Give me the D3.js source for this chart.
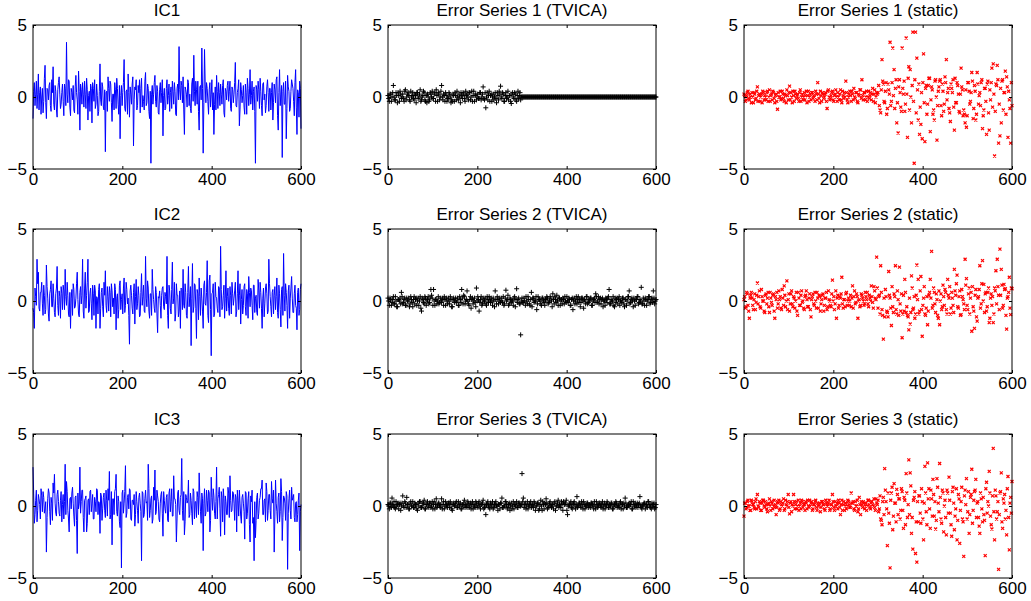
<!DOCTYPE html>
<html>
<head>
<meta charset="utf-8">
<script src="https://cdn.jsdelivr.net/npm/d3@7"></script>
<style>
  body { margin: 0; background: #fff; }
  text { font-family: "Liberation Sans", Arial, sans-serif; }
</style>
</head>
<body>
<svg id="fig" width="1031" height="601"></svg>
<script>
// main samples sit at x = 3k, the "Mid" samples at x = 3k + 1.5
var step = 3;
var xTicks = [0, 200, 400, 600];
var yTicks = [-5, 0, 5];

var ic1 = [
  -1.5, 1.0, 0.2, -0.8, 1.6, 0.3, -1.2, 0.6, -0.3, 2.2,
  -1.5, 0.5, 0.8, -0.6, 1.2, 2.1, -0.9, 0.4, -1.4, 1.0,
  0.2, -0.5, 0.9, -1.3, 0.6, 3.8, -0.4, 1.1, -1.3, 0.3,
  0.8, -1.1, 1.5, -0.2, 1.8, -2.3, 0.5, 1.0, -0.7, 0.2,
  1.3, -1.6, 0.4, 0.9, -1.8, 0.6, 1.2, -0.5, 0.1, -1.0,
  2.3, -0.6, 0.7, -0.9, -3.8, 0.4, 1.4, -0.3, 0.9, -1.7,
  0.2, 1.0, -0.8, 0.6, -1.2, -2.9, 0.8, 0.3, 2.6, -1.0,
  0.5, 1.6, -1.4, 0.2, 0.9, -3.4, 0.7, 1.2, -0.6, 0.3,
  -1.1, 1.3, 0.1, -0.9, 1.7, -0.4, 0.6, -1.5, -4.6, 0.8,
  0.2, 1.5, -0.7, 0.4, -1.2, 1.0, 0.3, -2.7, 0.6, -0.8,
  1.2, 0.1, -1.0, 0.7, 1.1, -0.5, 0.4, -1.3, 0.9, 3.5,
  -0.2, 0.8, 1.4, -2.6, 0.5, -0.7, 1.0, 0.2, -1.1, 1.3,
  2.9, -0.6, 0.5, 1.1, -2.3, 0.8, 3.4, -3.9, 3.3, -0.4,
  0.6, -1.2, 1.0, 0.2, -0.9, -2.6, 0.7, 1.5, -0.8, 0.3,
  0.9, -0.5, 1.2, -1.4, 0.4, 0.8, -0.3, 1.1, -1.0, 0.5,
  0.2, 2.4, -0.7, 0.6, -2.0, 1.0, -0.4, 0.8, -1.2, 0.3,
  1.3, -0.6, 1.9, 0.1, -0.9, 0.7, -4.6, 0.5, 1.1, -0.8,
  0.4, -1.3, 1.0, 0.2, -0.6, 1.2, -1.0, 0.6, 0.3, -1.6,
  0.9, -0.4, 1.4, -2.3, 1.9, 0.2, -4.2, 1.0, -0.5, -2.9,
  1.5, 0.4, -0.8, 1.2, 0.6, -1.3, 1.9, -2.6, 0.3, 1.1,
  -2.2
];
var ic1Mid = [
  0.4, -0.6, 1.1, 0.2, -0.9, 0.7, 0.0, -1.1, 1.3, -0.4,
  0.6, -0.2, 1.0, -1.0, 0.3, -0.5, 0.8, -0.9, 0.5, 1.4,
  -0.8, 0.3, -0.3, 0.9, -0.6, 0.2, 1.2, -0.7, 0.6, -0.2,
  -0.9, 0.7, 0.3, -1.2, 0.4, 0.9, -0.5, 0.2, 1.1, -0.8,
  0.5, 0.1, -1.0, 0.6, 1.0, -0.3, -0.8, 0.9, -1.3, 0.4,
  -0.2, 1.0, -0.7, 0.5, 0.3, -1.0, 0.6, 1.1, -0.4, 0.2,
  -0.9, 0.5, 1.3, -0.5, 0.8, 0.1, -0.6, 1.0, -0.8, 0.4,
  -1.2, 0.3, 0.7, -0.5, 1.4, -0.2, 0.5, -0.9, 0.8, 1.2,
  0.6, -0.7, -0.3, 1.1, -0.6, 0.9, -1.0, 0.4, 0.2, -0.5,
  1.0, -0.3, 0.8, -1.1, 0.5, -0.4, 1.2, 0.1, -0.9, 0.6,
  -0.5, 0.9, 0.3, -0.8, 0.4, 1.0, -1.2, 0.6, -0.2, 0.5,
  1.1, -0.4, -0.9, 0.7, 0.2, 1.2, -0.6, -0.8, 0.9, -0.3,
  0.4, 1.1, -0.5, -1.0, 0.7, -0.2, 0.6, -0.4, 0.9, 1.0,
  -0.3, 0.5, -0.7, 1.2, 0.3, -0.5, -0.9, 0.4, 1.0, -0.6,
  0.2, 0.8, -1.1, 0.6, -0.2, 1.1, 0.4, -0.8, 0.7, -0.4,
  1.0, -0.6, 0.3, 1.2, -0.9, 0.5, 0.1, -0.7, 0.9, -1.2,
  0.6, 0.2, -0.5, 1.1, 0.4, -1.0, 0.8, -0.3, 0.5, 1.3,
  -0.6, 0.9, -0.2, -1.1, 0.7, 0.3, 0.6, -0.9, 1.0, -0.4,
  0.5, 1.2, -1.3, 0.3, -0.6, 0.8, 0.4, -0.5, 1.1, -0.8,
  0.7, -1.0, 0.4, 0.9, -0.3, 1.0, -0.7, 0.5, -1.4, 0.6
];

var ic2 = [
  -0.5, -1.9, 0.3, 2.9, 2.0, -0.7, 0.6, -0.2, 1.1, -0.9,
  2.5, 0.2, -1.4, 0.8, -0.4, 1.2, -0.8, 0.5, 2.4, -1.0,
  0.3, 1.0, -0.6, 0.7, 2.2, -0.3, 0.4, -1.1, -1.9, 0.8,
  1.2, -0.5, 0.2, 2.0, -0.9, 0.6, -0.2, 2.9, -1.2, 2.0,
  0.4, 2.9, -0.7, 0.9, -1.3, 0.5, 1.1, -1.9, 0.2, 0.8,
  -1.9, 0.6, -0.4, 1.3, 2.1, -0.8, 0.3, 1.0, -1.1, 0.7,
  0.2, 1.2, -2.0, 0.5, -0.6, 1.4, 0.1, -0.9, 1.6, -0.3,
  0.8, 0.2, -3.0, 1.1, -0.5, 0.6, -1.6, 1.5, -0.2, 0.4,
  -1.0, 1.9, 0.3, -0.7, 3.1, -0.4, 0.9, -1.2, 0.5, 2.2,
  0.1, -0.8, 0.6, -2.2, 0.2, -0.3, 0.4, 1.0, -0.6, 0.3,
  3.1, -1.9, 0.7, -0.9, 2.7, 0.2, -1.4, 1.2, 0.4, -0.7,
  -1.9, 0.8, 2.2, -0.5, 0.6, -1.2, 2.4, 0.3, -3.1, 2.6,
  -0.4, 1.1, -2.6, 0.5, 1.6, -1.0, 0.2, -1.9, 1.4, -0.3,
  2.8, -1.5, 1.8, -3.8, 0.6, -1.1, 1.3, 0.2, -0.8, 0.9,
  3.8, -0.6, 0.4, -1.2, 2.1, 0.3, -0.5, 1.0, -0.9, 0.5,
  0.2, 1.3, -0.7, 2.1, 0.4, -1.6, 0.8, -0.3, 1.2, -1.0,
  0.5, 1.7, -0.4, 0.7, -1.3, 1.1, 0.2, -0.8, 1.5, -0.5,
  0.6, -1.9, 0.9, -0.2, 1.2, -0.9, 2.9, 0.3, -1.1, 0.8,
  0.4, -0.6, 1.6, -1.2, 0.5, -1.8, 1.0, 3.3, -0.7, 0.6,
  -1.9, 1.1, 0.2, 1.7, -0.8, 0.5, -0.3, -2.0, 0.9, -0.6,
  1.2
];
var ic2Mid = [
  -0.8, 0.9, -0.3, 1.2, -0.5, 0.6, 1.3, -1.0, 0.4, -0.6,
  1.0, -0.9, 0.5, 1.4, -0.4, 0.2, -1.1, 0.9, -0.3, 0.7,
  -1.2, 0.5, 1.1, -0.6, 0.3, 1.3, -0.9, 0.6, 0.2, -1.0,
  0.8, -0.4, 1.2, 0.1, -1.1, 1.0, 0.4, -0.7, 0.9, -0.5,
  1.3, -0.8, 0.5, -0.2, 1.1, -1.0, 0.7, 0.3, -0.9, 1.2,
  -0.5, 0.9, -1.1, 0.4, -0.3, 1.0, -0.7, 0.6, 1.2, -0.4,
  -0.9, 0.8, 0.2, -1.2, 1.1, -0.6, 0.5, 0.9, -0.8, 1.3,
  -0.2, -1.0, 0.7, 0.4, -0.9, 1.2, 0.3, -0.6, 1.0, -1.1,
  0.6, -0.3, 1.1, -0.8, 0.2, 1.4, -0.7, 0.5, -1.0, 0.8,
  -0.5, 1.0, -0.9, 0.3, 0.7, -1.2, 0.9, -0.4, 0.6, -0.2,
  -1.0, 1.1, -0.5, 0.8, -0.2, 1.3, -0.9, 0.4, -1.1, 0.7,
  0.9, -0.6, -0.3, 1.2, -1.0, 0.6, -0.4, 1.0, 0.2, -0.8,
  1.2, -0.5, 0.8, -1.3, 0.3, 0.9, -0.7, 1.1, -0.2, 0.6,
  -1.0, 1.4, -0.6, 0.5, 1.2, -0.9, 0.3, -0.5, 1.0, -1.1,
  0.8, -0.4, 1.1, 0.2, -0.7, 0.9, -1.0, 0.4, 1.3, -0.3,
  0.7, -1.1, 0.5, -0.6, 1.2, 0.1, -0.9, 1.0, -0.4, 0.8,
  -1.2, 0.6, 0.9, -0.3, 1.1, -0.8, 0.4, -1.0, 0.7, 1.3,
  -0.5, 0.2, -1.1, 0.9, 0.5, -0.7, 1.2, -0.4, 0.6, -0.9,
  1.0, 0.3, -0.8, 1.1, -0.6, 0.8, -1.0, 0.4, 1.2, -0.3,
  0.7, -1.2, 0.9, 0.2, -0.8, 1.1, -0.5, 0.6, -1.0, 0.8
];

var ic3 = [
  2.7, -1.2, 0.4, -1.1, 0.8, 0.1, 1.2, -0.4, 0.6, -0.2,
  -3.2, 0.5, 0.9, -1.3, 0.2, 1.6, 2.2, -0.5, 0.8, 0.3,
  -0.7, 1.0, 0.1, -0.9, 2.9, 1.7, -0.3, -1.8, 0.6, 0.9,
  0.2, -1.4, 0.7, -3.3, -0.2, 2.7, 0.3, 1.1, -1.8, 0.5,
  -1.8, 0.4, -0.6, 1.1, 0.2, -0.9, 0.6, -0.4, 1.1, 0.3,
  -1.9, 0.7, -0.2, 0.9, -0.8, 0.4, 1.2, 2.4, -0.6, -2.7,
  0.5, 1.0, 2.2, -0.7, 0.3, -1.5, -4.3, 1.1, 0.2, 2.8,
  -0.5, 0.8, 1.2, -0.9, 0.4, 0.1, -1.4, 1.0, -0.3, 0.6,
  0.2, -3.8, 0.9, -0.6, 1.1, 0.3, 2.9, -0.8, 0.5, -1.2,
  1.3, 2.5, -0.4, 0.7, -0.9, 0.2, 1.0, -2.1, 0.4, -0.5,
  0.8, -1.1, 1.2, 0.3, -0.7, 2.1, 0.5, -2.5, 0.9, -0.3,
  0.6, 3.3, -1.0, -2.0, 0.8, 0.2, 1.8, -0.6, 0.4, -1.3,
  1.0, 0.3, -0.8, 0.6, 2.3, -0.4, 0.9, -3.1, 1.2, -0.5,
  0.4, 1.1, -1.8, 2.0, -0.3, 0.7, -0.9, 2.7, 0.5, 1.3,
  -2.1, 0.6, 1.2, -2.0, 0.3, -0.6, 0.9, 2.1, -0.4, 1.0,
  0.2, 0.8, -1.8, 0.4, 1.1, -0.7, 0.6, 0.2, -2.3, 0.9,
  -0.5, 1.0, -2.5, 0.3, -1.2, -3.8, -2.2, 0.6, -0.9, 0.4,
  1.2, 1.8, -0.6, 0.5, 1.6, -1.0, 0.8, -0.3, 1.7, 0.2,
  -3.2, 1.8, -0.4, 0.6, -1.1, 1.9, -2.4, 0.7, 0.2, 1.0,
  -4.4, 0.5, -0.3, 1.3, 0.6, -0.8, 0.2, -1.1, 0.4, -3.1,
  0.1
];
var ic3Mid = [
  0.9, -0.6, 1.1, -0.3, 0.5, -0.9, 0.7, 1.0, -0.5, 0.3,
  -0.8, 1.2, -0.4, 0.6, -1.0, 0.9, 0.2, -0.7, 1.1, -0.5,
  0.4, -1.1, 0.8, 0.3, -0.6, 1.0, -0.9, 0.5, -0.2, 1.3,
  -0.7, 0.6, -1.0, 0.9, 0.2, -0.5, 1.1, -0.8, 0.4, 0.7,
  -1.2, 0.5, 1.0, -0.4, 0.8, -0.9, 0.3, 1.2, -0.6, 0.2,
  0.9, -1.0, 0.6, -0.3, 1.1, -0.7, 0.4, -0.9, 1.0, 0.5,
  -0.6, 1.2, -0.4, 0.7, -1.1, 0.3, 0.9, -0.5, 1.0, -0.8,
  0.6, -0.2, 1.1, -1.0, 0.4, 0.8, -0.6, 0.3, -1.2, 0.9,
  -0.4, 1.0, -0.8, 0.5, 0.2, -1.0, 1.2, -0.3, 0.7, -0.9,
  0.4, -0.6, 1.1, 0.3, -1.1, 0.8, -0.5, 1.0, -0.2, 0.6,
  -1.0, 0.9, -0.4, 1.2, -0.7, 0.5, 0.1, -0.9, 1.1, -0.6,
  0.8, -0.3, 1.0, -1.1, 0.6, 0.4, -0.8, 0.9, -0.5, 1.2,
  -0.9, 0.3, 1.0, -0.6, 0.7, -1.2, 0.5, 0.2, -0.7, 1.1,
  -0.4, 0.9, -1.0, 0.6, 1.2, -0.5, 0.3, -0.9, 0.8, -0.2,
  1.0, -1.1, 0.5, 0.7, -0.6, 1.3, -0.8, 0.4, -0.3, 0.9,
  -1.0, 0.6, 1.1, -0.7, 0.2, -1.2, 0.8, -0.4, 1.0, -0.9,
  0.5, -1.3, 0.7, 1.1, -0.8, 0.3, -1.0, 0.9, -0.5, 0.6,
  1.2, -0.6, 0.4, -1.1, 1.0, -0.3, 0.8, -0.9, 0.5, 1.1,
  -0.7, 0.2, -1.2, 0.9, -0.4, 1.0, -0.8, 0.6, -1.0, 0.7,
  -0.5, 1.1, -0.9, 0.4, 0.8, -1.1, 0.3, -0.6, 0.9, -0.4
];

var tvica1 = [
  0.1, -0.3, 0.2, 0.0, 0.8, -0.2, 0.3, -0.4, 0.1, 0.4,
  -0.1, 0.2, -0.3, 0.5, 0.0, 0.3, -0.2, 0.4, 0.1, -0.1,
  0.2, -0.4, 0.3, 0.0, 0.5, -0.2, 0.1, 0.3, -0.3, -0.4,
  0.0, -0.2, 0.2, 0.4, -0.1, 0.3, 0.5, -0.3, 0.2, 0.0,
  0.8, -0.2, 0.1, 0.3, -0.3, -0.1, 0.2, -0.4, -0.3, 0.1,
  0.3, -0.2, 0.0, 0.2, -0.4, 0.1, 0.3, -0.1, 0.4, 0.2,
  -0.2, 0.3, 0.0, -0.3, 0.4, 0.1, -0.2, 0.2, -0.1, 0.3,
  0.0, 0.7, -0.2, -0.75, 0.3, 0.1, -0.3, 0.2, 0.0, -0.2,
  0.3, -0.4, 0.1, 0.4, 0.75, -0.1, 0.2, -0.3, 0.3, 0.0,
  -0.2, 0.1, -0.45, 0.3, -0.1, 0.2, -0.3, 0.4, 0.1, -0.2,
  0, 0, 0, 0, 0, 0, 0, 0, 0, 0,
  0, 0, 0, 0, 0, 0, 0, 0, 0, 0,
  0, 0, 0, 0, 0, 0, 0, 0, 0, 0,
  0, 0, 0, 0, 0, 0, 0, 0, 0, 0,
  0, 0, 0, 0, 0, 0, 0, 0, 0, 0,
  0, 0, 0, 0, 0, 0, 0, 0, 0, 0,
  0, 0, 0, 0, 0, 0, 0, 0, 0, 0,
  0, 0, 0, 0, 0, 0, 0, 0, 0, 0,
  0, 0, 0, 0, 0, 0, 0, 0, 0, 0,
  0, 0, 0, 0, 0, 0, 0, 0, 0, 0,
  0
];
var tvica1Mid = [
  -0.1, 0.2, -0.3, 0.3, 0.0, -0.2, 0.1, 0.3, -0.3, 0.2,
  0.0, -0.1, 0.4, -0.2, 0.2, 0.1, -0.3, 0.0, 0.3, -0.2,
  0.1, 0.3, -0.1, 0.2, -0.3, 0.0, 0.4, -0.2, 0.1, 0.2,
  -0.3, 0.3, 0.0, -0.1, 0.2, -0.3, 0.1, 0.3, -0.2, 0.4,
  0.0, 0.2, -0.3, 0.1, -0.1, 0.3, 0.0, -0.2, 0.2, -0.3,
  0.1, 0.4, -0.2, 0.0, 0.3, -0.1, 0.2, -0.3, 0.1, 0.0,
  0.3, -0.2, 0.4, 0.1, -0.3, 0.2, 0.0, -0.1, 0.3, -0.2,
  0.2, -0.1, 0.3, 0.0, -0.2, 0.4, 0.1, -0.3, 0.2, 0.0,
  -0.1, 0.3, -0.2, 0.2, 0.0, 0.3, -0.3, 0.1, -0.1, 0.4,
  0.1, -0.3, 0.2, 0.0, 0.3, -0.2, 0.1, -0.1, 0.3, 0.0,
  0, 0, 0, 0, 0, 0, 0, 0, 0, 0,
  0, 0, 0, 0, 0, 0, 0, 0, 0, 0,
  0, 0, 0, 0, 0, 0, 0, 0, 0, 0,
  0, 0, 0, 0, 0, 0, 0, 0, 0, 0,
  0, 0, 0, 0, 0, 0, 0, 0, 0, 0,
  0, 0, 0, 0, 0, 0, 0, 0, 0, 0,
  0, 0, 0, 0, 0, 0, 0, 0, 0, 0,
  0, 0, 0, 0, 0, 0, 0, 0, 0, 0,
  0, 0, 0, 0, 0, 0, 0, 0, 0, 0,
  0, 0, 0, 0, 0, 0, 0, 0, 0, 0
];

var tvica2 = [
  0.2, -0.3, 0.1, -0.1, 0.3, -0.2, 0.0, -0.4, 0.1, 0.2,
  0.6, -0.2, 0.1, -0.3, 0.2, 0.0, -0.4, 0.3, -0.1, 0.1,
  -0.2, 0.2, 0.0, -0.3, 0.3, -0.7, 0.1, -0.2, 0.2, 0.0,
  0.3, -0.1, 0.8, 0.2, 0.8, -0.3, 0.1, 0.0, -0.2, 0.2,
  -0.1, 0.1, 0.3, -0.3, 0.0, 0.2, -0.2, 0.1, -0.4, 0.2,
  0.0, -0.1, 0.2, -0.3, 0.1, 0.8, -0.2, 0.3, 0.0, 0.7,
  -0.2, 0.1, -0.5, 0.2, 0.0, -0.1, 0.9, 0.3, -0.7, 0.1,
  -0.3, 0.2, 0.0, -0.2, 0.3, -0.1, 0.1, 0.2, -0.3, 0.0,
  0.7, -0.2, 0.1, 0.2, -0.1, 0.0, 0.3, -0.2, 0.75, 0.1,
  -0.3, 0.2, -0.1, 0.0, 0.2, -0.4, 0.85, 0.1, -0.2, -2.35,
  0.2, -0.1, 0.0, 0.3, -0.2, 0.1, -0.3, 0.6, 0.2, -0.1,
  0.0, -0.6, 0.3, 0.1, -0.2, 0.2, 0.0, -0.3, 0.1, 0.2,
  -0.1, 0.3, 0.0, 0.5, -0.2, 0.1, 0.4, -0.3, 0.2, 0.0,
  -0.2, 0.1, 0.3, -0.1, 0.0, 0.2, -0.3, 0.1, -0.6, 0.2,
  0.0, -0.2, 0.3, 0.1, -0.1, 0.2, -0.5, 0.0, 0.3, -0.2,
  0.1, 0.2, -0.3, 0.0, 0.2, 0.5, -0.1, 0.3, 0.1, -0.2,
  0.2, 0.0, -0.3, 0.1, 0.2, 0.8, -0.2, 0.0, 0.3, -0.4,
  -0.1, 0.2, 0.1, -0.3, 0.0, 0.2, -0.2, 0.1, -0.3, 0.3,
  0.7, -0.1, 0.2, -0.4, 0.0, 0.1, 0.3, -0.2, 0.1, 0.95,
  -0.2, 0.0, 0.2, -0.3, 0.1, 0.3, -0.1, 0.2, 0.7, -0.2,
  0.1
];
var tvica2Mid = [
  0.0, 0.2, -0.3, 0.1, -0.2, 0.3, -0.4, 0.1, 0.0, -0.2,
  0.3, -0.1, 0.2, -0.3, 0.0, 0.2, -0.2, 0.1, -0.4, 0.3,
  0.1, -0.3, 0.2, 0.0, -0.5, 0.2, -0.1, 0.3, -0.3, 0.1,
  -0.2, 0.2, 0.4, -0.3, 0.0, 0.1, -0.2, 0.3, -0.1, 0.0,
  0.2, -0.3, 0.1, 0.2, -0.2, 0.0, 0.3, -0.4, 0.1, -0.1,
  0.2, 0.0, -0.3, 0.3, -0.1, 0.2, 0.4, -0.2, 0.1, 0.0,
  -0.3, 0.3, 0.1, -0.2, 0.2, -0.4, 0.0, 0.1, -0.1, 0.3,
  -0.2, 0.0, 0.2, -0.3, 0.1, 0.3, -0.1, 0.0, 0.2, -0.4,
  0.1, 0.3, -0.2, 0.0, 0.2, -0.1, -0.3, 0.2, 0.0, 0.4,
  -0.2, 0.1, 0.0, -0.3, 0.3, 0.1, -0.1, 0.2, -0.2, 0.0,
  -0.1, 0.2, -0.3, 0.0, 0.3, -0.2, 0.1, -0.4, 0.2, 0.0,
  0.3, -0.2, 0.1, 0.0, -0.3, 0.2, -0.1, 0.1, 0.3, -0.2,
  0.0, 0.2, -0.4, 0.1, 0.3, -0.1, 0.0, 0.2, -0.3, 0.1,
  0.2, -0.2, 0.0, 0.3, -0.1, 0.1, -0.3, 0.2, 0.0, -0.2,
  0.3, 0.1, -0.1, -0.4, 0.2, 0.0, 0.1, -0.2, 0.3, -0.1,
  0.0, 0.2, -0.3, 0.1, -0.1, 0.3, 0.0, -0.2, 0.2, 0.1,
  -0.4, 0.0, 0.2, -0.1, 0.3, -0.2, 0.1, 0.0, -0.3, 0.2,
  0.1, -0.2, 0.3, 0.0, -0.1, 0.2, -0.4, 0.1, 0.0, 0.3,
  -0.2, 0.1, 0.0, 0.2, -0.3, 0.1, 0.3, -0.1, 0.0, -0.2,
  0.2, -0.3, 0.1, 0.0, 0.3, -0.2, 0.1, -0.1, 0.2, 0.0
];

var tvica3 = [
  0.1, -0.2, 0.2, 0.55, 0.0, -0.1, 0.3, 0.1, -0.2, 0.2,
  0.0, 0.7, -0.1, 0.2, 0.6, 0.1, -0.2, 0.3, 0.0, -0.1,
  0.2, 0.1, -0.3, 0.0, 0.3, -0.1, 0.2, 0.4, -0.2, 0.1,
  0.0, 0.2, -0.1, 0.3, 0.1, -0.2, 0.5, 0.0, 0.2, -0.1,
  0.5, 0.1, -0.2, 0.3, 0.0, 0.2, -0.1, 0.1, -0.3, 0.2,
  0.0, 0.3, -0.1, 0.1, 0.2, -0.2, 0.0, 0.4, 0.1, -0.1,
  0.2, 0.0, -0.2, 0.3, 0.1, -0.1, 0.2, 0.0, 0.3, -0.2,
  0.1, 0.4, -0.1, -0.6, 0.2, 0.0, -0.2, 0.1, 0.3, -0.1,
  0.2, 0.0, -0.3, 0.1, 0.2, 0.55, -0.1, 0.0, 0.3, -0.2,
  0.1, -0.3, 0.2, 0.0, -0.2, 0.1, 0.3, -0.1, 0.2, 0.0,
  2.25, 0.55, 0.1, -0.2, 0.3, 0.0, 0.2, -0.1, 0.1, 0.3,
  -0.3, 0.0, 0.2, -0.2, 0.4, -0.3, 0.1, 0.2, 0.5, -0.2,
  0.0, 0.3, -0.1, 0.1, 0.2, -0.3, 0.0, 0.4, 0.1, -0.1,
  0.2, 0.3, 0.1, 0.4, -0.6, 0.0, 0.2, -0.1, 0.1, 0.3,
  -0.2, 0.65, 0.0, 0.2, -0.1, 0.1, 0.3, -0.2, 0.0, 0.2,
  0.1, -0.1, 0.2, 0.0, 0.3, -0.2, 0.1, 0.0, 0.2, -0.1,
  0.3, 0.0, -0.2, 0.1, 0.2, -0.1, 0.0, 0.2, -0.2, 0.1,
  0.3, -0.1, 0.0, 0.2, -0.2, 0.1, 0.2, 0.55, -0.1, 0.0,
  0.2, 0.1, -0.2, 0.3, 0.0, -0.1, 0.2, 0.1, 0.65, -0.1,
  0.0, 0.2, -0.2, 0.1, 0.3, 0.0, -0.1, 0.2, 0.1, -0.2,
  0.1
];
var tvica3Mid = [
  0.0, 0.2, -0.1, 0.1, 0.3, -0.2, 0.0, 0.2, 0.1, -0.3,
  0.2, 0.0, 0.3, -0.1, 0.1, -0.2, 0.2, 0.0, 0.3, -0.1,
  0.1, -0.2, 0.2, 0.3, -0.1, 0.0, 0.2, -0.2, 0.1, 0.3,
  -0.1, 0.2, 0.0, -0.2, 0.3, 0.1, -0.1, 0.2, 0.0, 0.1,
  -0.2, 0.3, 0.0, 0.1, -0.1, 0.2, 0.3, -0.2, 0.1, 0.0,
  0.2, -0.1, 0.3, 0.0, -0.2, 0.1, 0.2, -0.1, 0.0, 0.3,
  -0.1, 0.2, 0.1, -0.2, 0.0, 0.3, -0.1, 0.2, 0.0, 0.1,
  0.2, -0.2, 0.0, 0.1, 0.3, -0.1, 0.2, 0.0, -0.2, 0.1,
  0.3, 0.0, 0.1, -0.2, 0.2, -0.1, 0.0, 0.3, 0.1, -0.1,
  0.2, 0.0, -0.2, 0.3, 0.1, 0.0, -0.1, 0.2, 0.0, 0.1,
  0.3, -0.1, 0.2, 0.0, -0.2, 0.1, 0.3, 0.0, -0.1, 0.2,
  0.0, 0.2, -0.3, 0.1, 0.0, 0.3, -0.2, 0.1, 0.2, -0.1,
  0.2, 0.0, 0.1, -0.2, 0.3, 0.0, 0.2, -0.1, 0.0, 0.3,
  -0.3, 0.1, 0.2, -0.3, 0.0, 0.1, 0.3, -0.2, 0.2, 0.0,
  0.1, -0.1, 0.2, 0.0, 0.3, -0.2, 0.1, 0.0, 0.2, -0.1,
  0.0, 0.2, 0.1, -0.2, 0.0, 0.3, -0.1, 0.2, 0.0, 0.1,
  -0.2, 0.2, 0.0, 0.3, -0.1, 0.1, 0.2, -0.2, 0.0, 0.1,
  0.2, 0.0, -0.1, 0.3, 0.1, -0.2, 0.0, 0.2, -0.1, 0.1,
  0.0, 0.3, -0.2, 0.1, 0.2, 0.0, -0.1, 0.2, 0.0, -0.2,
  0.1, 0.2, 0.0, -0.1, 0.3, 0.1, -0.2, 0.0, 0.2, -0.1
];

var static1 = [
  0.2, -0.3, 0.1, 0.4, -0.2, 0.0, 0.3, -0.4, 0.2, -0.1,
  0.7, 0.1, -0.3, 0.2, 0.4, -0.2, 0.0, 0.3, -0.3, 0.5,
  0.1, -0.2, 0.3, -0.4, 0.2, -0.85, 0.0, 0.4, -0.1, 0.2,
  -0.3, 0.1, 0.5, -0.2, 0.75, 0.3, -0.4, 0.1, 0.4, -0.1,
  0.2, -0.3, 0.5, 0.0, -0.2, 0.3, 0.1, -0.4, 0.4, 0.0,
  -0.2, 0.3, 0.1, -0.3, 0.2, 1.0, -0.1, 0.4, -0.3, 0.2,
  0.0, 0.3, -0.8, 0.5, -0.2, 0.1, 0.4, -0.3, 0.2, 0.0,
  0.3, -0.2, 0.5, -0.4, 0.1, 0.3, 1.1, -0.2, 0.0, 0.4,
  -0.3, 0.2, 0.6, -0.1, 0.3, -0.4, 0.1, 0.5, 1.2, -0.2,
  0.3, 0.0, -0.3, 0.4, 0.1, -0.2, 0.6, 0.2, -0.4, 0.3,
  0.3, -0.6, -1.1, 2.6, 0.9, -0.4, 1.0, -0.8, 0.5, 3.8,
  -0.3, 3.4, 1.9, 0.6, -1.8, -2.5, 1.2, -0.7, 3.4, 0.2,
  -1.0, 4.1, -2.8, 2.1, 1.9, -1.8, 4.5, -4.6, 4.5, 2.7,
  -1.6, -2.6, -1.9, -2.9, 3.0, -3.1, 0.8, -0.5, 1.3, -2.4,
  0.7, -1.2, -1.6, 1.2, -3.0, 0.4, 1.1, -0.6, 0.9, -1.0,
  1.4, 2.6, 0.3, -0.8, -1.7, 0.6, 1.2, -2.3, -0.4, 1.0,
  0.2, -1.1, 2.0, 0.5, -0.9, -1.8, -2.1, 1.0, 0.4, -0.3,
  1.7, -1.5, 0.8, -1.6, 1.7, -0.5, 0.3, 1.0, -2.2, -0.9,
  0.6, -2.6, 1.1, -2.3, -0.2, 2.0, 2.3, -4.1, 0.9, 2.2,
  -3.2, -2.7, -1.8, 1.2, 0.3, 1.8, 1.4, -2.8, -0.2, -3.2,
  -0.6
];
var static1Mid = [
  0.1, -0.2, 0.3, -0.1, 0.2, -0.4, 0.0, 0.3, -0.2, 0.4,
  -0.3, 0.2, 0.0, -0.4, 0.3, 0.1, -0.2, 0.4, 0.0, -0.3,
  0.2, 0.4, -0.1, 0.1, -0.3, 0.3, 0.0, -0.2, 0.4, -0.1,
  0.2, -0.4, 0.1, 0.3, -0.2, 0.0, 0.4, -0.3, 0.2, 0.1,
  -0.1, 0.3, -0.3, 0.2, 0.0, -0.2, 0.4, 0.1, -0.3, 0.2,
  0.3, -0.1, 0.0, 0.4, -0.2, 0.2, -0.4, 0.1, 0.3, -0.1,
  0.2, -0.3, 0.4, 0.0, -0.1, 0.3, -0.2, 0.1, 0.5, -0.3,
  0.0, 0.2, -0.2, 0.4, -0.1, 0.0, 0.3, -0.4, 0.2, 0.1,
  0.4, -0.2, 0.0, 0.3, -0.3, 0.2, 0.5, -0.1, 0.1, 0.3,
  -0.2, 0.4, 0.0, -0.1, 0.3, 0.2, -0.3, 0.5, 0.0, 0.2,
  0.8, -0.9, 0.5, 1.1, -0.3, 0.4, -1.2, 0.9, 0.2, -0.6,
  1.0, 0.1, -0.8, 1.2, -0.4, 0.7, 0.3, -1.0, 0.6, 1.1,
  -0.5, 0.2, 1.3, -0.9, 0.0, 0.8, -0.3, 1.2, -1.1, 0.5,
  0.9, -0.7, 0.3, 1.0, -0.4, 0.6, -1.2, 0.8, 1.3, -0.2,
  0.5, -0.9, 1.1, 0.0, -0.6, 0.7, 1.2, -1.3, 0.4, -0.5,
  1.0, -0.2, 0.6, -1.1, 0.9, 0.3, -0.7, 1.3, -0.4, 0.8,
  -1.0, 0.2, 0.7, -1.3, -1.2, 0.5, -1.3, 1.0, -0.5, 0.3,
  1.1, -0.8, 0.4, -1.2, 0.9, 0.1, -0.6, 1.2, -1.3, 0.6,
  -0.3, 0.9, -1.1, 0.5, 1.0, -0.7, 0.2, -1.0, 0.8, 1.2,
  -0.5, 0.6, 1.1, -0.9, 0.3, -1.2, 0.7, 0.4, -0.8, 1.0
];

var static2 = [
  0.1, -0.5, 0.6, -0.3, -1.2, 0.4, 0.2, -0.6, 0.5, -0.1,
  1.25, 0.3, -0.4, 0.8, 0.0, -0.7, 0.4, -0.2, 0.6, -0.8,
  0.2, -0.3, 0.5, -1.2, 0.1, -0.5, 0.7, 0.3, -0.6, 0.2,
  1.05, -0.4, 1.4, 0.1, -0.7, 0.5, -0.2, 0.3, -0.5, 0.6,
  -1.0, 0.2, -0.3, 0.7, 0.0, -0.6, 0.4, 0.1, -0.4, 0.5,
  -1.1, 0.3, -0.2, 0.6, -0.5, 0.2, 0.4, -0.7, 0.1, 0.5,
  -0.3, 0.2, -0.6, 0.7, 0.0, -0.4, 1.45, 0.3, -0.2, -1.2,
  0.4, -0.3, 0.2, 1.65, -0.5, 0.1, 0.5, -0.3, 0.2, 0.0,
  -0.4, 1.05, 0.3, -0.2, 0.5, -1.2, 0.1, -0.3, 0.4, 0.0,
  -0.2, 0.3, 0.6, -0.4, 0.2, 1.05, -0.1, 1.0, 0.2, 3.05,
  -0.5, 0.4, 2.45, -0.6, -2.65, -1.1, 0.3, -0.8, 2.05, 0.2,
  -1.7, -0.4, 0.5, 2.45, -0.9, 0.1, 2.35, -0.7, -2.55, 0.4,
  1.5, -0.8, -1.0, -2.0, -1.6, 1.75, -0.6, 0.3, -0.9, 2.5,
  1.5, -0.7, 1.7, -2.45, 0.2, -0.9, -0.5, -1.65, 0.4, 1.5,
  3.45, -0.3, 0.6, -0.8, 0.1, -1.2, -1.65, 0.5, -0.4, 0.3,
  0.8, -0.6, 1.5, 0.2, -0.9, 0.6, -0.3, 2.2, 0.4, 1.8,
  -0.5, 0.7, -0.95, 0.3, -0.2, 2.9, 1.55, -0.6, 0.9, 0.2,
  -2.1, -0.4, -1.9, 0.8, -1.4, 0.3, 2.45, -0.2, 2.8, 1.15,
  0.5, -0.7, 0.6, -1.5, 0.2, -0.3, -1.5, 0.9, 2.1, 2.9,
  0.4, 3.6, 2.2, -0.5, 1.15, 0.85, -1.95, 0.3, 1.65, -0.95,
  0.85
];
var static2Mid = [
  0.3, -0.4, 0.5, -0.7, 0.2, 0.6, -0.3, 0.1, -0.6, 0.4,
  -0.2, 0.7, -0.5, 0.3, 0.0, -0.8, 0.5, 0.2, -0.4, 0.6,
  -0.1, 0.4, -0.7, 0.3, 0.6, -0.2, 0.1, -0.5, 0.8, -0.3,
  0.4, 0.0, -0.6, 0.5, -0.2, 0.7, -0.4, 0.2, 0.0, -0.7,
  0.6, -0.3, 0.4, -0.1, -0.5, 0.3, 0.7, -0.4, 0.2, -0.6,
  0.1, 0.5, -0.3, 0.0, 0.6, -0.5, 0.3, -0.2, 0.4, -0.7,
  0.2, 0.6, -0.4, 0.1, -0.3, 0.5, 0.0, -0.6, 0.7, 0.2,
  -0.5, 0.3, 0.5, -0.2, 0.1, -0.4, 0.6, 0.0, -0.3, 0.4,
  0.2, -0.5, 0.7, -0.1, 0.3, 0.0, -0.4, 0.5, 0.2, -0.3,
  0.6, 0.1, -0.2, 0.4, 0.0, 0.3, -0.5, 0.7, 0.1, 0.9,
  0.3, -0.9, 0.6, -1.0, 0.2, 0.8, -0.7, -1.1, 0.4, -0.5,
  1.0, -0.8, 0.3, -0.6, 0.7, -1.0, -0.2, 0.5, -0.9, -0.7,
  0.6, -0.4, -1.1, 0.2, -0.8, 0.9, -0.5, -1.2, 0.4, 0.1,
  -0.9, 0.7, -0.6, -0.3, 1.0, -1.0, 0.3, -0.7, 0.6, 0.2,
  -0.5, 0.9, -0.2, 0.5, -1.0, 0.7, 0.0, -0.6, 1.1, -0.3,
  0.6, -0.9, 0.4, 1.0, -0.5, 0.2, -0.8, 0.7, 1.2, -0.4,
  0.3, -1.0, 0.8, 0.1, -0.6, 1.1, -0.3, 0.5, -0.9, 0.6,
  1.0, -0.7, 0.4, -1.1, 0.2, 0.8, -0.5, 1.2, 0.0, -0.8,
  0.6, -0.4, 0.9, -1.2, 0.5, 0.3, -0.9, 0.7, -0.2, 1.0,
  -0.6, 0.4, 1.1, -0.3, 0.8, -1.0, 0.2, 0.6, -0.5, 0.9
];

var static3 = [
  -0.7, 0.2, -0.1, 0.4, 0.0, -0.3, 0.3, 0.1, -0.2, 0.5,
  0.8, -0.1, 0.2, -0.3, 0.4, 0.0, 0.3, -0.2, 0.1, 0.5,
  -0.3, 0.2, 0.0, -0.1, -0.6, 0.3, 0.4, -0.2, 0.1, 0.2,
  -0.3, 0.4, 0.0, 0.8, -0.55, 0.3, 0.1, 0.8, -0.2, 0.3,
  0.0, -0.3, 0.2, 0.4, -0.1, 0.1, 0.3, -0.2, 0.0, 0.4,
  0.2, -0.3, 0.1, 0.3, -0.1, 0.2, 0.0, -0.4, 0.3, 0.1,
  -0.2, 0.4, 0.0, 0.2, -0.3, 0.1, 0.8, -0.1, 0.3, 0.0,
  -0.2, 0.2, -0.6, 0.4, 0.1, -0.3, 0.2, 0.0, 0.3, -0.1,
  0.9, 0.2, -0.2, 0.3, 0.0, -0.4, 0.6, -0.6, 0.1, 0.3,
  -0.2, 0.2, 0.0, 0.4, -0.1, 0.3, 0.1, 0.5, -0.3, 0.2,
  0.4, -0.2, -0.9, -1.3, 0.6, 2.6, 0.3, -2.75, -0.5, -4.3,
  0.9, -1.65, 1.55, 0.2, 1.15, -0.6, 0.5, -0.3, 1.0, -1.55,
  0.4, 2.25, -0.8, 3.2, 2.3, -1.9, -3.0, 0.6, -3.3, -3.9,
  -1.1, 0.7, -1.2, 0.3, -2.35, 2.75, -0.4, 3.0, 1.2, -1.55,
  0.5, 1.85, -0.7, -1.6, 1.9, 0.2, 2.95, -0.9, 1.1, -1.8,
  0.4, -2.0, 0.9, 2.0, -0.5, -2.1, 1.3, -1.65, -0.2, -2.35,
  0.8, -2.6, 0.3, -0.9, -3.5, 1.1, 1.9, -0.4, -1.9, 0.6,
  2.55, -0.3, 1.0, 1.85, 0.2, -0.8, -1.9, 0.5, -1.1, -0.6,
  -3.45, 1.65, 0.3, 2.4, -0.7, -1.6, 4.0, -2.35, 0.7, -0.4,
  -4.4, 0.9, 2.3, -1.55, 0.2, -0.9, -2.0, 2.05, -3.05, 0.6,
  1.7
];
var static3Mid = [
  0.2, -0.2, 0.3, 0.0, -0.3, 0.4, 0.1, -0.1, 0.3, -0.2,
  0.0, 0.3, -0.3, 0.2, 0.4, -0.1, 0.1, -0.4, 0.2, 0.0,
  0.3, -0.2, 0.4, 0.1, -0.1, 0.2, -0.3, 0.3, 0.0, 0.5,
  -0.2, 0.1, 0.3, -0.1, 0.2, -0.4, 0.0, 0.3, 0.1, -0.2,
  0.4, 0.0, -0.2, 0.3, 0.1, -0.3, 0.2, 0.4, -0.1, 0.0,
  0.3, -0.2, 0.1, 0.4, -0.3, 0.0, 0.2, -0.1, 0.3, 0.1,
  -0.3, 0.2, 0.0, 0.4, -0.2, 0.1, 0.3, -0.3, 0.0, 0.2,
  0.4, -0.1, 0.1, -0.3, 0.3, 0.0, -0.2, 0.4, 0.1, -0.1,
  0.2, 0.3, -0.3, 0.0, 0.4, -0.2, 0.1, 0.3, -0.1, 0.2,
  0.0, -0.3, 0.4, 0.1, -0.2, 0.3, 0.0, -0.1, 0.5, 0.1,
  -0.4, 0.7, -1.0, 0.3, -0.6, 1.1, -0.2, 0.9, -1.2, 0.4,
  1.3, -0.7, 0.2, -1.1, 0.8, 0.5, -0.9, 1.2, -0.3, 0.6,
  -1.3, 0.9, 0.1, -0.6, 1.4, -0.8, 0.4, 1.0, -1.1, 0.3,
  0.7, -0.5, 1.2, -0.9, 0.2, 0.9, -1.3, 0.5, -0.2, 1.1,
  -0.7, 0.8, 0.3, -1.0, 1.3, -0.4, 0.6, -1.2, 0.9, 0.0,
  -0.8, 1.1, -0.5, 0.4, -1.3, 1.0, 0.2, -0.7, 1.2, -1.0,
  0.5, -0.3, 1.3, -1.1, 0.7, 0.1, -0.9, 1.0, -0.6, 0.8,
  -1.2, 0.4, 1.1, -0.8, 0.3, -1.4, 0.9, -0.2, 0.6, -1.0,
  1.2, -0.5, 0.0, 0.9, -1.3, 0.7, -0.4, 1.1, -0.9, 0.3,
  -0.6, 1.0, -1.1, 0.5, 0.8, -0.3, 1.2, -0.8, 0.2, -0.5
];

var panels = [
  { title: "IC1", values: ic1, mid: ic1Mid, kind: "line" },
  { title: "Error Series 1 (TVICA)", values: tvica1, mid: tvica1Mid, kind: "plus" },
  { title: "Error Series 1 (static)", values: static1, mid: static1Mid, kind: "cross" },
  { title: "IC2", values: ic2, mid: ic2Mid, kind: "line" },
  { title: "Error Series 2 (TVICA)", values: tvica2, mid: tvica2Mid, kind: "plus" },
  { title: "Error Series 2 (static)", values: static2, mid: static2Mid, kind: "cross" },
  { title: "IC3", values: ic3, mid: ic3Mid, kind: "line" },
  { title: "Error Series 3 (TVICA)", values: tvica3, mid: tvica3Mid, kind: "plus" },
  { title: "Error Series 3 (static)", values: static3, mid: static3Mid, kind: "cross" }
];

var colLeft = [33, 388, 744],
    rowTop = [25, 229, 434],
    w = 268,
    h = 144,
    tick = 3,
    fontSize = 17;

var svg = d3.select("#fig");

//interleave the two sample sets into one ordered series
function samples(p) {
  var pts = [];
  p.values.forEach(function (v, i) {
    pts.push({ t: i * step, v: v });
    if (i < p.mid.length) {
      pts.push({ t: i * step + step / 2, v: p.mid[i] });
    }
  });
  return pts;
}

panels.forEach(function (p, n) {
  var g = svg.append("g")
      .attr("transform", "translate(" + colLeft[n % 3] + "," + rowTop[Math.floor(n / 3)] + ")"),
    x = d3.scaleLinear().domain([0, 600]).range([0, w]),
    y = d3.scaleLinear().domain([-5, 5]).range([h, 0]),
    pts = samples(p),
    marks;

  if (p.kind === "line") {
    g.append("path")
      .datum(pts)
      .attr("fill", "none")
      .attr("stroke", "#0000ff")
      .attr("stroke-width", 1)
      .attr("stroke-linejoin", "round")
      .attr("d", d3.line()
        .x(function (d) { return x(d.t); })
        .y(function (d) { return y(d.v); }));
  } else {
    marks = g.append("g").selectAll("path").data(pts).enter().append("path")
      .attr("transform", function (d) {
        return "translate(" + x(d.t) + "," + y(d.v) + ")";
      })
      .attr("fill", "none");
    if (p.kind === "plus") {
      marks.attr("d", "M-2.5,0H2.5M0,-2.5V2.5")
        .attr("stroke", "#000")
        .attr("stroke-width", 1);
    } else {
      marks.attr("d", "M-1.5,-1.5L1.5,1.5M-1.5,1.5L1.5,-1.5")
        .attr("stroke", "#ff0000")
        .attr("stroke-width", 1.2);
    }
  }

  //axes: inward ticks on all four sides, labels bottom and left only
  g.append("g").attr("transform", "translate(0," + h + ")")
    .call(d3.axisBottom(x).tickValues(xTicks).tickSize(-tick).tickPadding(4));
  g.append("g")
    .call(d3.axisTop(x).tickValues(xTicks).tickSize(-tick).tickFormat(""));
  g.append("g")
    .call(d3.axisLeft(y).tickValues(yTicks).tickSize(-tick).tickPadding(6));
  g.append("g").attr("transform", "translate(" + w + ",0)")
    .call(d3.axisRight(y).tickValues(yTicks).tickSize(-tick).tickFormat(""));

  g.selectAll(".domain").remove();
  g.selectAll(".tick line").attr("stroke", "#000");
  g.selectAll(".tick text")
    .attr("fill", "#000")
    .style("font-size", fontSize + "px")
    .style("font-family", "'Liberation Sans', Arial, sans-serif");

  g.append("rect")
    .attr("width", w)
    .attr("height", h)
    .attr("fill", "none")
    .attr("stroke", "#000")
    .attr("stroke-width", 1);

  g.append("text")
    .attr("x", w / 2)
    .attr("y", -9)
    .attr("text-anchor", "middle")
    .style("font-size", fontSize + "px")
    .text(p.title);
});
</script>
</body>
</html>
